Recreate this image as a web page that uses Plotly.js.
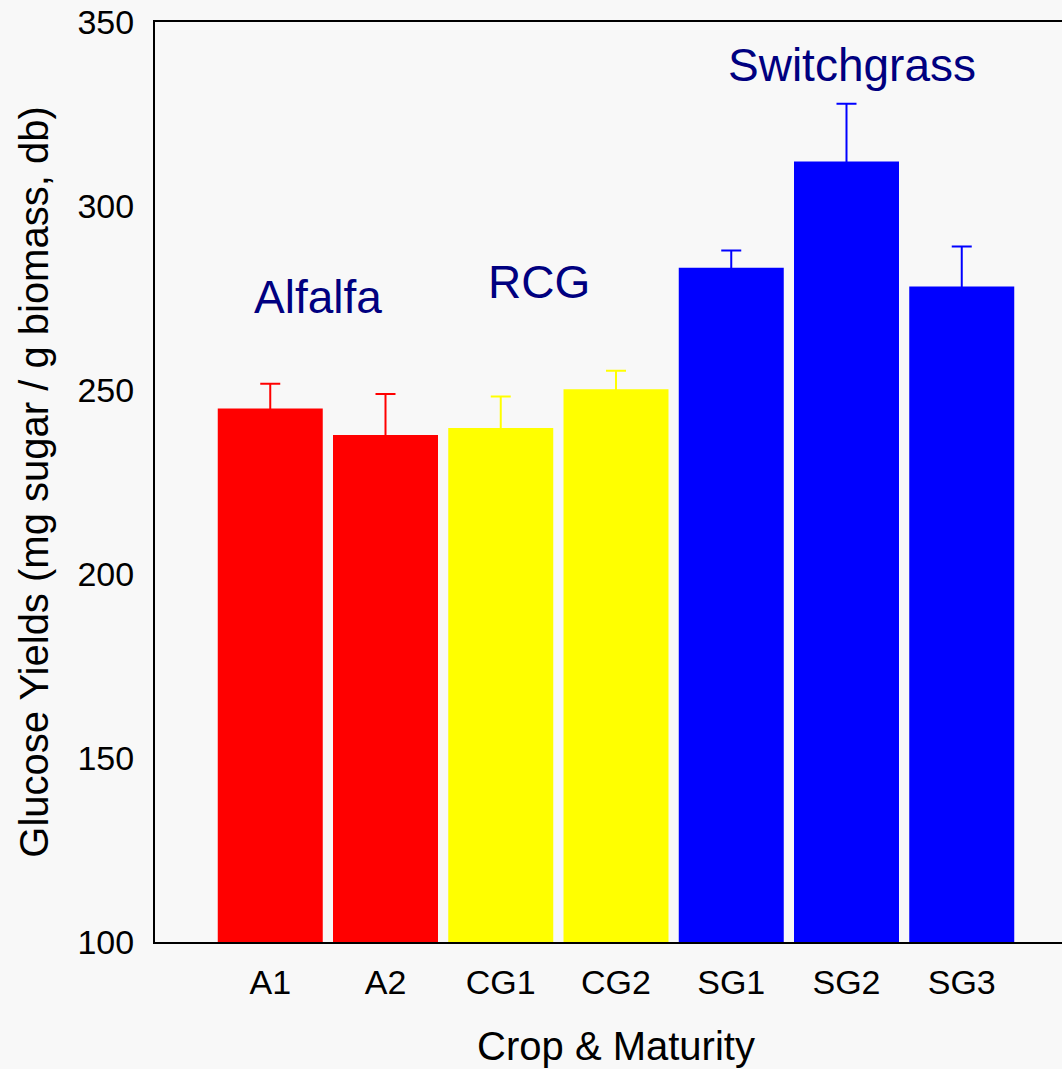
<!DOCTYPE html>
<html>
<head>
<meta charset="utf-8">
<script src="https://cdn.plot.ly/plotly-3.0.1.min.js"></script>
<style>
html, body { margin: 0; padding: 0; overflow: hidden; background: #f8f8f8; }
#chart { width: 1080px; height: 1069px; }
</style>
</head>
<body>
<div id="chart"></div>
<script>
// Data
const categories = ['A1', 'A2', 'CG1', 'CG2', 'SG1', 'SG2', 'SG3'];
const glucoseYield = [245.0, 237.8, 239.7, 250.2, 283.2, 312.1, 278.1];
const stdError = [6.7, 11.1, 8.5, 5.0, 4.7, 15.7, 10.9];
const crops = ['Alfalfa', 'RCG', 'Switchgrass'];
const cropCategories = [['A1', 'A2'], ['CG1', 'CG2'], ['SG1', 'SG2', 'SG3']];
const cropColors = ['#ff0000', '#ffff00', '#0000ff'];
const cropLabelPos = [[0.41, 275.3], [2.33, 279.3], [5.05, 338.3]];

const font = 'Liberation Sans, Arial, Helvetica, sans-serif';

const traces = crops.map((crop, i) => {
  const xs = cropCategories[i];
  const ys = xs.map(c => glucoseYield[categories.indexOf(c)]);
  const es = xs.map(c => stdError[categories.indexOf(c)]);
  return {
    type: 'bar',
    name: crop,
    x: xs,
    y: ys,
    marker: { color: cropColors[i], line: { width: 0 } },
    error_y: { type: 'data', array: es, symmetric: true, color: cropColors[i], thickness: 2, width: 10 },
    hoverinfo: 'x+y'
  };
});

const annotations = crops.map((crop, i) => ({
  x: cropLabelPos[i][0],
  y: cropLabelPos[i][1],
  xref: 'x', yref: 'y',
  text: crop,
  showarrow: false,
  xanchor: 'center', yanchor: 'middle',
  font: { family: font, size: 46, color: '#000080' }
}));

const layout = {
  width: 1080,
  height: 1069,
  margin: { l: 155, r: 3, t: 22, b: 127 },
  paper_bgcolor: '#f8f8f8',
  plot_bgcolor: '#f8f8f8',
  showlegend: false,
  barmode: 'overlay',
  bargap: 0.089,
  font: { family: font, color: '#000000' },
  xaxis: {
    type: 'category',
    categoryorder: 'array',
    categoryarray: categories,
    range: [-1, 7],
    showgrid: false,
    zeroline: false,
    showline: true,
    linecolor: '#000000',
    linewidth: 2,
    mirror: true,
    ticks: '',
    ticklabelstandoff: 9,
    tickfont: { family: font, size: 34, color: '#000000' },
    title: { text: 'Crop & Maturity', font: { family: font, size: 40, color: '#000000' }, standoff: 32 }
  },
  yaxis: {
    range: [100, 350],
    tick0: 100,
    dtick: 50,
    showgrid: false,
    zeroline: false,
    showline: true,
    linecolor: '#000000',
    linewidth: 2,
    mirror: true,
    ticks: '',
    ticklabelstandoff: 12,
    tickfont: { family: font, size: 34, color: '#000000' },
    title: { text: 'Glucose Yields (mg sugar / g biomass, db)', font: { family: font, size: 40, color: '#000000' }, standoff: 16 }
  },
  annotations: annotations
};

Plotly.newPlot('chart', traces, layout, { displayModeBar: false, staticPlot: true });
</script>
</body>
</html>
